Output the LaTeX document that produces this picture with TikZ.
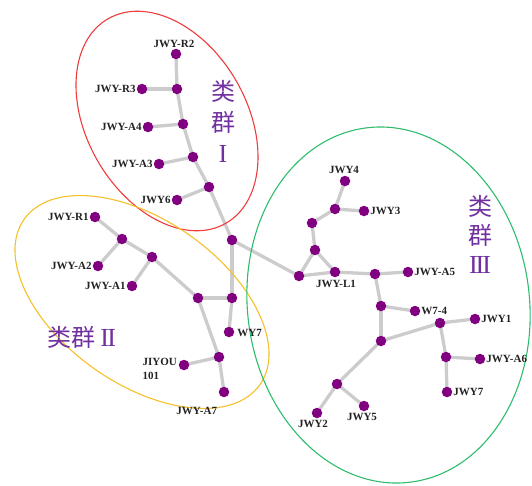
\documentclass[tikz,border=0pt]{standalone}
\usepackage{fontspec}
\setmainfont{Liberation Serif}
\newfontfamily\cjk{Noto Sans CJK SC}
\usetikzlibrary{calc}
\definecolor{dotc}{HTML}{800080}
\definecolor{edgec}{HTML}{CCCCCC}
\definecolor{txtc}{HTML}{7030A0}
\definecolor{labc}{HTML}{222222}
\definecolor{redc}{HTML}{F03C3C}
\definecolor{yelc}{HTML}{F5C02A}
\definecolor{grnc}{HTML}{2DBE6C}
\pgfdeclarelayer{bg}
\pgfsetlayers{bg,main}
\newcommand{\rI}{I}
\newcommand{\rII}{I\kern-1.5pt I}
\newcommand{\rIII}{I\kern-2pt I\kern-2pt I}
\begin{document}
\begin{tikzpicture}[x=1pt,y=-1pt,
  dot/.style={circle,fill=dotc,inner sep=0pt,minimum size=10.5pt},
  edge/.style={draw=edgec,line width=3.3pt},
  lab/.style={font=\fontsize{11}{14}\selectfont\bfseries,text=labc,inner sep=0.8pt},
  cn/.style={text=txtc,inner sep=0pt,align=center},
  ring/.style={line width=1.1pt}]
\useasboundingbox (0,0) rectangle (532,485);
% ellipses
\draw[ring,draw=redc,rotate around={-60:(167,121)}] (167,121) ellipse [x radius=118, y radius=80];
\draw[ring,draw=yelc,rotate around={-35:(142,302)}] (142,302) ellipse [x radius=144, y radius=82];
\draw[ring,draw=grnc,rotate around={-83:(388.5,305)}] (388.5,305) ellipse [x radius=178.5, y radius=141];
% cluster I
\node[dot] (R2) at (176,54) {};
\node[dot] (a1) at (177,89) {};
\node[dot] (R3) at (142,89) {};
\node[dot] (a2) at (183,124) {};
\node[dot] (A4) at (148,127) {};
\node[dot] (a3) at (193,157) {};
\node[dot] (A3) at (159,164) {};
\node[dot] (a4) at (209,187) {};
\node[dot] (J6) at (177,200) {};
\node[dot] (h) at (232,240) {};
% cluster II
\node[dot] (R1) at (95,217) {};
\node[dot] (b1) at (122,239) {};
\node[dot] (A2) at (98,266) {};
\node[dot] (b2) at (152,257) {};
\node[dot] (A1) at (132,286) {};
\node[dot] (b3) at (198,298) {};
\node[dot] (b4) at (232,298) {};
\node[dot] (WY7) at (229,332) {};
\node[dot] (b5) at (219,357) {};
\node[dot] (JI) at (184,365) {};
\node[dot] (A7) at (224,392) {};
% cluster III
\node[dot] (p1) at (299,276) {};
\node[dot] (q3) at (315,250) {};
\node[dot] (q2) at (312,223) {};
\node[dot] (q1) at (335,209) {};
\node[dot] (J4) at (345,181) {};
\node[dot] (J3) at (364,211) {};
\node[dot] (L1) at (335,272) {};
\node[dot] (q4) at (375,274) {};
\node[dot] (A5) at (408,272) {};
\node[dot] (q5) at (381,306) {};
\node[dot] (W74) at (415,311) {};
\node[dot] (q7) at (381,341) {};
\node[dot] (q6) at (440,323) {};
\node[dot] (J1) at (475,319) {};
\node[dot] (q8) at (446,357) {};
\node[dot] (A6) at (480,359) {};
\node[dot] (J7) at (447,392) {};
\node[dot] (q9) at (337,384) {};
\node[dot] (J2) at (317,413) {};
\node[dot] (J5) at (364,406) {};
% edges
\begin{pgfonlayer}{bg}
\foreach \u/\v in {R2/a1,a1/R3,a1/a2,a2/A4,a2/a3,a3/A3,a3/a4,a4/J6,a4/h,
  R1/b1,b1/A2,b1/b2,b2/A1,b2/b3,b3/b4,b4/h,b4/WY7,b3/b5,b5/JI,b5/A7,
  h/p1,p1/q3,p1/L1,q3/L1,q3/q2,q2/q1,q1/J4,q1/J3,L1/q4,q4/A5,q4/q5,q5/W74,
  q5/q7,q7/q6,q6/J1,q6/q8,q8/A6,q8/J7,q7/q9,q9/J2,q9/J5}
  \draw[edge] (\u.center) -- (\v.center);
\end{pgfonlayer}
% labels
\node[lab,anchor=south] (tR2) at ($(R2.north)+(-2,0)$) {JWY-R2};
\node[lab,anchor=east] (tR3) at (R3.west) {JWY-R3};
\node[lab,anchor=east] (tA4) at (A4.west) {JWY-A4};
\node[lab,anchor=east] (tA3) at (A3.west) {JWY-A3};
\node[lab,anchor=east] (tJ6) at (J6.west) {JWY6};
\node[lab,anchor=east] (tR1) at (R1.west) {JWY-R1};
\node[lab,anchor=east] (tA2) at (A2.west) {JWY-A2};
\node[lab,anchor=east] (tA1) at (A1.west) {JWY-A1};
\node[lab,anchor=west] (tWY7) at ($(WY7.east)+(2,1)$) {WY7};
\node[lab,anchor=north west,align=left] (tJI) at ($(JI.west)+(-37,-8)$) {JIYOU\\101};
\node[lab,anchor=north east] (tA7) at ($(A7.south)+(-6,9)$) {JWY-A7};
\node[lab,anchor=south] (tJ4) at ($(J4.north)+(-1,-1)$) {JWY4};
\node[lab,anchor=west] (tJ3) at (J3.east) {JWY3};
\node[lab,anchor=north] (tL1) at ($(L1.south)+(1,1.5)$) {JWY-L1};
\node[lab,anchor=west] (tA5) at (A5.east) {JWY-A5};
\node[lab,anchor=west] (tW74) at (W74.east) {W7-4};
\node[lab,anchor=west] (tJ1) at (J1.east) {JWY1};
\node[lab,anchor=west] (tA6) at (A6.east) {JWY-A6};
\node[lab,anchor=west] (tJ7) at (J7.east) {JWY7};
\node[lab,anchor=north] (tJ2) at ($(J2.south)+(-4,1)$) {JWY2};
\node[lab,anchor=north] (tJ5) at ($(J5.south)+(-2,0.5)$) {JWY5};
% cluster titles
\node[cn,font=\fontsize{24}{31}\selectfont] (c1) at (223,121) {{\cjk 类}\\{\cjk 群}\\{\fontsize{26}{31}\selectfont\rI}};
\node[cn,font=\fontsize{24}{30}\selectfont] (c2) at (82,337) {{\cjk 类群}{\fontsize{26}{30}\selectfont\,\rII}};
\node[cn,font=\fontsize{24}{29}\selectfont] (c3) at (480,234) {{\cjk 类}\\{\cjk 群}\\{\fontsize{26}{29}\selectfont\rIII}};
\end{tikzpicture}
\end{document}
